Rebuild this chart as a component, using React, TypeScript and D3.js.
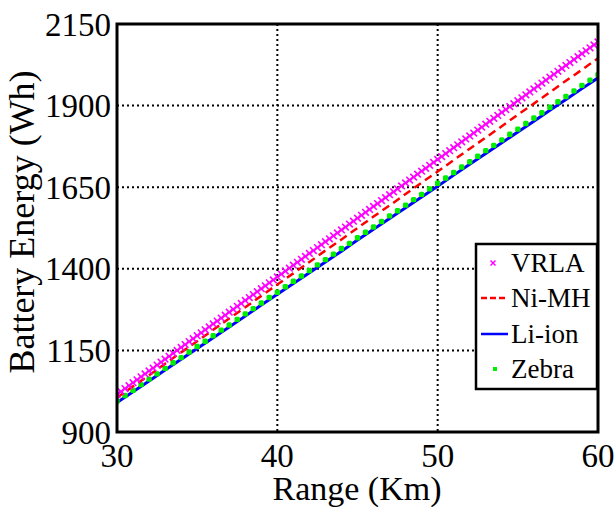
import React from "react";
import * as d3 from "d3";

const W = 616;
const H = 507;

// x grids (km)
const rangeKm = d3.range(30, 60.001, 1);
const rangeHalfKm = d3.range(30, 60.001, 0.5);
const rangeQuarterKm = d3.range(30, 60.001, 0.25);

const xTicks = [30, 40, 50, 60];
const yTicks = [900, 1150, 1400, 1650, 1900, 2150];

// VRLA sampled every 0.25 km
const vrla = [
  1015, 1024, 1033, 1042, 1051, 1060, 1069, 1078, 1087, 1096,
  1105, 1114, 1123, 1132, 1141, 1150, 1159, 1168, 1177, 1186,
  1195, 1204, 1213, 1222, 1231, 1240, 1249, 1258, 1267, 1276,
  1285, 1294, 1303, 1312, 1321, 1330, 1339, 1348, 1357, 1366,
  1375, 1384, 1393, 1402, 1411, 1420, 1429, 1438, 1447, 1456,
  1465, 1474, 1483, 1492, 1501, 1510, 1519, 1528, 1537, 1546,
  1555, 1564, 1573, 1582, 1591, 1600, 1609, 1618, 1627, 1636,
  1645, 1654, 1663, 1672, 1681, 1690, 1699, 1708, 1717, 1726,
  1735, 1744, 1753, 1762, 1771, 1780, 1789, 1798, 1807, 1816,
  1825, 1834, 1843, 1852, 1861, 1870, 1879, 1888, 1897, 1906,
  1915, 1924, 1933, 1942, 1951, 1960, 1969, 1978, 1987, 1996,
  2005, 2014, 2023, 2032, 2041, 2050, 2059, 2068, 2077, 2086,
  2095,
];

// Ni-MH sampled every 1 km
const niMH = [
  1005, 1040, 1074, 1109, 1144, 1178, 1213, 1248, 1282, 1317, 1352,
  1386, 1421, 1456, 1490, 1525, 1560, 1594, 1629, 1664, 1698,
  1733, 1768, 1802, 1837, 1872, 1906, 1941, 1976, 2010, 2045,
];

// Li-ion sampled every 1 km
const liIon = [
  990, 1023, 1056, 1090, 1123, 1156, 1189, 1222, 1255, 1289, 1322,
  1355, 1388, 1421, 1454, 1488, 1521, 1554, 1587, 1620, 1653,
  1687, 1720, 1753, 1786, 1819, 1852, 1886, 1919, 1952, 1985,
];

// Zebra sampled every 0.5 km
const zebra = [
  995, 1012, 1028, 1045, 1062, 1078, 1095, 1112, 1128, 1145,
  1162, 1178, 1195, 1212, 1228, 1245, 1262, 1278, 1295, 1312,
  1328, 1345, 1362, 1378, 1395, 1412, 1428, 1445, 1462, 1478,
  1495, 1512, 1528, 1545, 1562, 1578, 1595, 1612, 1628, 1645,
  1662, 1678, 1695, 1712, 1728, 1745, 1762, 1778, 1795, 1812,
  1828, 1845, 1862, 1878, 1895, 1912, 1928, 1945, 1962, 1978,
  1995,
];

const legendLabels = ["VRLA", "Ni-MH", "Li-ion", "Zebra"];

const FONT = "'Liberation Serif', 'Times New Roman', serif";

export default function App() {
  const left = 117;
  const right = 598;
  const top = 24;
  const bottom = 432;

  const x = d3.scaleLinear().domain([30, 60]).range([left, right]);
  const y = d3.scaleLinear().domain([900, 2150]).range([bottom, top]);

  const line = d3
    .line<[number, number]>()
    .x((d) => x(d[0]))
    .y((d) => y(d[1]));

  const niPts: [number, number][] = rangeKm.map((r, i) => [r, niMH[i]]);
  const liPts: [number, number][] = rangeKm.map((r, i) => [r, liIon[i]]);
  const zePts: [number, number][] = rangeHalfKm.map((r, i) => [r, zebra[i]]);
  const vrPts: [number, number][] = rangeQuarterKm.map((r, i) => [r, vrla[i]]);

  const ms = 3.3; // x marker half size

  const lgX = 476;
  const lgY = 244;
  const lgW = 121;
  const lgH = 145;
  const rowY = [263, 298, 334, 369];

  return (
    <svg
      width={W}
      height={H}
      style={{ position: "absolute", left: 0, top: 0, background: "#fff" }}
      fontFamily={FONT}
    >
      <rect x={0} y={0} width={W} height={H} fill="#fff" />
      <defs>
        <clipPath id="plotclip">
          <rect x={left} y={top} width={right - left} height={bottom - top} />
        </clipPath>
      </defs>

      {/* grid */}
      {xTicks.slice(1, -1).map((t) => (
        <line
          key={"gx" + t}
          x1={x(t)}
          x2={x(t)}
          y1={top}
          y2={bottom}
          stroke="#000"
          strokeWidth={2}
          strokeDasharray="2,3"
        />
      ))}
      {yTicks.slice(1, -1).map((t) => (
        <line
          key={"gy" + t}
          x1={left}
          x2={right}
          y1={y(t)}
          y2={y(t)}
          stroke="#000"
          strokeWidth={2}
          strokeDasharray="2,3"
        />
      ))}

      <g clipPath="url(#plotclip)">
        {/* Li-ion */}
        <path d={line(liPts) || ""} fill="none" stroke="#0000ff" strokeWidth={3} />
        {/* Zebra */}
        {zePts.map((p, i) => (
          <rect
            key={"z" + i}
            x={x(p[0]) - 2.7}
            y={y(p[1]) - 2.7}
            width={5.4}
            height={5.4}
            rx={1.5}
            fill="#00ee00"
          />
        ))}
        {/* Ni-MH */}
        <path
          d={line(niPts) || ""}
          fill="none"
          stroke="#ff0000"
          strokeWidth={2.5}
          strokeDasharray="8,5"
        />
        {/* VRLA */}
        {vrPts.map((p, i) => {
          const cx = x(p[0]);
          const cy = y(p[1]);
          return (
            <path
              key={"v" + i}
              d={`M${cx - ms},${cy - ms}L${cx + ms},${cy + ms}M${cx - ms},${cy + ms}L${cx + ms},${cy - ms}`}
              stroke="#ff00ff"
              strokeWidth={1.6}
              fill="none"
            />
          );
        })}
      </g>

      {/* frame */}
      <rect
        x={left}
        y={top}
        width={right - left}
        height={bottom - top}
        fill="none"
        stroke="#000"
        strokeWidth={3}
      />

      {/* x tick labels */}
      {xTicks.map((t) => (
        <text
          key={"xt" + t}
          x={x(t)}
          y={467}
          textAnchor="middle"
          fontSize={33}
          fill="#000"
        >
          {t}
        </text>
      ))}
      {/* y tick labels */}
      {yTicks.map((t) => (
        <text
          key={"yt" + t}
          x={111}
          y={y(t)}
          dy="0.35em"
          textAnchor="end"
          fontSize={33}
          fill="#000"
        >
          {t}
        </text>
      ))}

      {/* axis titles */}
      <text x={357} y={500} textAnchor="middle" fontSize={34} fill="#000">
        Range (Km)
      </text>
      <text
        transform={`translate(34,222) rotate(-90)`}
        textAnchor="middle"
        fontSize={36}
        fill="#000"
      >
        Battery Energy (Wh)
      </text>

      {/* legend */}
      <rect x={lgX} y={lgY} width={lgW} height={lgH} fill="#fff" stroke="#000" strokeWidth={2.5} />
      {/* VRLA marker */}
      <path
        d={`M${493 - 2.5},${rowY[0] - 2.5}L${493 + 2.5},${rowY[0] + 2.5}M${493 - 2.5},${rowY[0] + 2.5}L${493 + 2.5},${rowY[0] - 2.5}`}
        stroke="#ff00ff"
        strokeWidth={1.5}
      />
      <line x1={481} x2={508} y1={rowY[1]} y2={rowY[1]} stroke="#ff0000" strokeWidth={2.5} strokeDasharray="6,3" />
      <line x1={481} x2={508} y1={rowY[2]} y2={rowY[2]} stroke="#0000ff" strokeWidth={2.5} />
      <rect x={493} y={rowY[3] - 2} width={4} height={4} fill="#00ee00" />
      {legendLabels.map((l, i) => (
        <text key={l} x={511} y={rowY[i]} dy="0.35em" fontSize={27} fill="#000">
          {l}
        </text>
      ))}
    </svg>
  );
}
